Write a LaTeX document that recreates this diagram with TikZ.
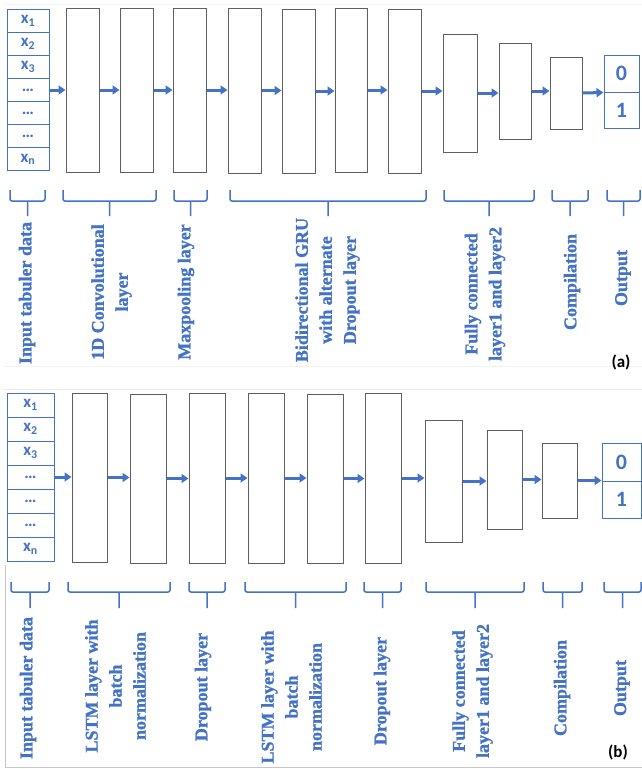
\documentclass[tikz,border=0pt]{standalone}
\usepackage{fontspec}
\setmainfont{Liberation Serif}
\newfontfamily\lblfont{Liberation Serif Bold}[FakeBold=1.2]
\newfontfamily\calibri{Carlito}
\newfontfamily\calibribold{Carlito Bold}
\usetikzlibrary{arrows.meta}
\definecolor{netblue}{RGB}{68,114,196}
\definecolor{boxgray}{RGB}{95,95,95}
\begin{document}
\begin{tikzpicture}[
    x=1pt, y=-1pt,
    layer/.style={draw=boxgray, line width=1pt, fill=white, inner sep=0pt},
    cell/.style={draw=netblue, line width=1pt, inner sep=0pt, text=netblue,
                 font=\calibribold\fontsize{17}{17}\selectfont},
    digit/.style={cell, font=\calibribold\fontsize{22}{22}\selectfont},
    flow/.style={-{Triangle[length=7pt,width=9pt]}, line width=3pt, netblue},
    brace/.style={netblue, line width=1.5pt, rounded corners=2pt},
    lbl/.style={rotate=90, align=center, text=netblue, inner sep=0pt,
                font=\lblfont\fontsize{18}{24}\selectfont},
    tag/.style={font=\calibribold\fontsize{17}{17}\selectfont},
    frame/.style={line width=0.8pt},
  ]
  \useasboundingbox (0,0) rectangle (642,769);

  % faint page edges
  \draw[frame, gray!8] (4,4) -- (642,4);
  \draw[frame, gray!10] (4,366) -- (642,366);
  \draw[frame, gray!15] (4,389) -- (642,389);
  \draw[frame, gray!45] (5,565) -- (5,767) -- (642,767);

  % ---------- (a) ----------
  \node[cell, minimum width=42pt, minimum height=23.1pt] (ia1) at (28,20.6) {x\textsubscript{1}};
  \node[cell, minimum width=42pt, minimum height=23.1pt] (ia2) at (28,43.7) {x\textsubscript{2}};
  \node[cell, minimum width=42pt, minimum height=23.1pt] (ia3) at (28,66.9) {x\textsubscript{3}};
  \node[cell, minimum width=42pt, minimum height=23.1pt] (ia4) at (28,90.0) {\dots};
  \node[cell, minimum width=42pt, minimum height=23.1pt] (ia5) at (28,113.1) {\dots};
  \node[cell, minimum width=42pt, minimum height=23.1pt] (ia6) at (28,136.3) {\dots};
  \node[cell, minimum width=42pt, minimum height=23.1pt] (ia7) at (28,159.4) {x\textsubscript{n}};

  \node[layer, minimum width=33pt, minimum height=164pt] (a1) at (82.5,90) {};
  \node[layer, minimum width=33pt, minimum height=164pt] (a2) at (136.5,90) {};
  \node[layer, minimum width=33pt, minimum height=164pt] (a3) at (189.5,90) {};
  \node[layer, minimum width=33pt, minimum height=165pt] (a4) at (244.5,90.5) {};
  \node[layer, minimum width=33pt, minimum height=164pt] (a5) at (298.5,91) {};
  \node[layer, minimum width=32pt, minimum height=164pt] (a6) at (351,90) {};
  \node[layer, minimum width=33pt, minimum height=164pt] (a7) at (404.5,91) {};
  \node[layer, minimum width=34pt, minimum height=118pt] (a8) at (460,93) {};
  \node[layer, minimum width=32pt, minimum height=96pt] (a9) at (515,91) {};
  \node[layer, minimum width=32pt, minimum height=72pt] (a10) at (566,93) {};
  \node[digit, minimum width=35pt, minimum height=37pt] (oa0) at (621.5,73.5) {0};
  \node[digit, minimum width=35pt, minimum height=36pt] (oa1) at (621.5,110) {1};

  \draw[flow] (ia4.east) -- (ia4.east -| a1.west);
  \draw[flow] (a1.east) -- (a1.east -| a2.west);
  \draw[flow] (a2.east) -- (a2.east -| a3.west);
  \draw[flow] (a3.east) -- (a3.east -| a4.west);
  \draw[flow] (a4.east) -- (a4.east -| a5.west);
  \draw[flow] (a5.east) -- (a5.east -| a6.west);
  \draw[flow] (a6.east) -- (a6.east -| a7.west);
  \draw[flow] (a7.east) -- (a7.east -| a8.west);
  \draw[flow] (a8.east) -- (a8.east -| a9.west);
  \draw[flow] (a9.east) -- (a9.east -| a10.west);
  \draw[flow] (a10.east) -- (oa0.south west);

  \foreach \l/\r in {10/45, 63/156, 174/207, 230/426, 444/534, 552/588, 607/640}
    \draw[brace] (\l,190) -- (\l,201) -- (\r,201) -- (\r,190)
                 ({(\l+\r)/2},201) -- ++(0,15);

  \node[lbl] (la-in) at (27,293) {Input tabuler data};
  \node[lbl] (la-conv) at (111.5,292) {1D Convolutional\\layer};
  \node[lbl] (la-pool) at (186,292) {Maxpooling layer};
  \node[lbl] (la-gru) at (327.5,290) {Bidirectional GRU\\with alternate\\Dropout layer};
  \node[lbl] (la-fc) at (485,294) {Fully connected\\layer1 and layer2};
  \node[lbl] (la-comp) at (572,282) {Compilation};
  \node[lbl] (la-out) at (623,278) {Output};
  \node[tag] (tag-a) at (621,362) {(a)};

  % ---------- (b) ----------
  \node[cell, minimum width=47pt, minimum height=24pt] (ib1) at (30.5,405) {x\textsubscript{1}};
  \node[cell, minimum width=47pt, minimum height=24pt] (ib2) at (30.5,429) {x\textsubscript{2}};
  \node[cell, minimum width=47pt, minimum height=24pt] (ib3) at (30.5,453) {x\textsubscript{3}};
  \node[cell, minimum width=47pt, minimum height=24pt] (ib4) at (30.5,477) {\dots};
  \node[cell, minimum width=47pt, minimum height=24pt] (ib5) at (30.5,501) {\dots};
  \node[cell, minimum width=47pt, minimum height=24pt] (ib6) at (30.5,525) {\dots};
  \node[cell, minimum width=47pt, minimum height=24pt] (ib7) at (30.5,549) {x\textsubscript{n}};

  \node[layer, minimum width=35pt, minimum height=169pt] (b1) at (89.5,477.5) {};
  \node[layer, minimum width=36pt, minimum height=169pt] (b2) at (148,478.5) {};
  \node[layer, minimum width=36pt, minimum height=170pt] (b3) at (207,478) {};
  \node[layer, minimum width=36pt, minimum height=170pt] (b4) at (266,478) {};
  \node[layer, minimum width=36pt, minimum height=169pt] (b5) at (325,478.5) {};
  \node[layer, minimum width=36pt, minimum height=170pt] (b6) at (383,478) {};
  \node[layer, minimum width=37pt, minimum height=122pt] (b7) at (443.5,481) {};
  \node[layer, minimum width=35pt, minimum height=99pt] (b8) at (504.5,479.5) {};
  \node[layer, minimum width=35pt, minimum height=75pt] (b9) at (559.5,480.5) {};
  \node[digit, minimum width=39pt, minimum height=38pt] (ob0) at (621.5,462) {0};
  \node[digit, minimum width=39pt, minimum height=37pt] (ob1) at (621.5,499.5) {1};

  \draw[flow] (ib4.east) -- (ib4.east -| b1.west);
  \draw[flow] (b1.east) -- (b1.east -| b2.west);
  \draw[flow] (b2.east) -- (b2.east -| b3.west);
  \draw[flow] (b3.east) -- (b3.east -| b4.west);
  \draw[flow] (b4.east) -- (b4.east -| b5.west);
  \draw[flow] (b5.east) -- (b5.east -| b6.west);
  \draw[flow] (b6.east) -- (b6.east -| b7.west);
  \draw[flow] (b7.east) -- (b7.east -| b8.west);
  \draw[flow] (b8.east) -- (b8.east -| b9.west);
  \draw[flow] (b9.east) -- (b9.east -| ob0.west);

  \foreach \l/\r in {11/49, 68/170, 189/225, 245/346, 364/401, 426/524, 543/582, 604/641}
    \draw[brace] (\l,582) -- (\l,592) -- (\r,592) -- (\r,582)
                 ({(\l+\r)/2},592) -- ++(0,16);

  \node[lbl] (lb-in) at (28,688) {Input tabuler data};
  \node[lbl] (lb-lstm1) at (115.5,686) {LSTM layer with\\batch\\normalization};
  \node[lbl] (lb-drop1) at (203,687) {Dropout layer};
  \node[lbl] (lb-lstm2) at (291.5,697) {LSTM layer with\\batch\\normalization};
  \node[lbl] (lb-drop2) at (382,691) {Dropout layer};
  \node[lbl] (lb-fc) at (472.5,691) {Fully connected\\layer1 and layer2};
  \node[lbl] (lb-comp) at (562,688) {Compilation};
  \node[lbl] (lb-out) at (622,688) {Output};
  \node[tag] (tag-b) at (618,752) {(b)};
\end{tikzpicture}
\end{document}
